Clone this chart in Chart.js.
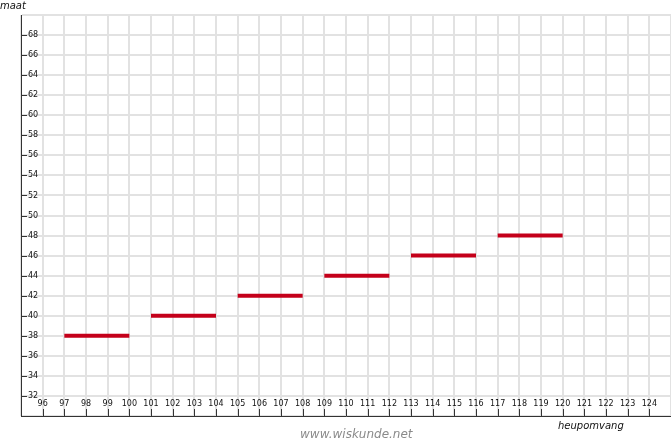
<!DOCTYPE html>
<html>
<head>
<meta charset="utf-8">
<script src="https://cdn.jsdelivr.net/npm/chart.js@4/dist/chart.umd.min.js"></script>
<style>
  html, body { margin: 0; padding: 0; background: #fff; }
  #wrap { position: relative; width: 671px; height: 440px; }
  canvas { position: absolute; left: 0; top: 0; }
  .lbl { position: absolute; font-family: "DejaVu Sans", Verdana, sans-serif; font-style: italic; white-space: nowrap; line-height: 1; }
</style>
</head>
<body>
<div id="wrap">
  <canvas id="c" width="671" height="440"></canvas>
  <div class="lbl" style="left:0px; top:1px; font-size:10px; color:#111;">maat</div>
  <div class="lbl" style="left:558px; top:421px; font-size:10px; color:#111;">heupomvang</div>
  <div class="lbl" style="left:300px; top:428px; font-size:12px; color:#8a8a8a;">www.wiskunde.net</div>
</div>
<script>
// Data: size (maat) per hip-circumference range (heupomvang)
const hipFrom = [97, 101, 105, 109, 113, 117];
const hipTo   = [100, 104, 108, 112, 116, 120];
const maat    = [38, 40, 42, 44, 46, 48];

// Axis ranges / tick labels
const xMin = 95, xMax = 125, xStep = 1;
const yMin = 30, yMax = 70, yStep = 2;
const xTickLabels = [96,97,98,99,100,101,102,103,104,105,106,107,108,109,110,111,112,113,114,115,116,117,118,119,120,121,122,123,124];
const yTickLabels = [32,34,36,38,40,42,44,46,48,50,52,54,56,58,60,62,64,66,68];

const RED = '#c4001a';
const datasets = maat.map((m, i) => ({
  type: 'line',
  data: [{x: hipFrom[i], y: m}, {x: hipTo[i], y: m}],
  borderColor: RED,
  backgroundColor: RED,
  borderWidth: 4,
  borderCapStyle: 'butt',
  pointRadius: 0,
  pointHoverRadius: 0,
  fill: false,
  tension: 0
}));

const tickMarks = {
  id: 'tickMarks',
  afterDatasetsDraw(chart) {
    const ctx = chart.ctx;
    const xs = chart.scales.x, ys = chart.scales.y;
    const a = chart.chartArea;
    ctx.save();
    ctx.strokeStyle = '#333';
    ctx.lineWidth = 1;
    ctx.beginPath();
    yTickLabels.forEach(v => {
      const p = Math.round(ys.getPixelForValue(v)) + 0.5;
      ctx.moveTo(a.left, p); ctx.lineTo(a.left + 6, p);
    });
    xTickLabels.forEach(v => {
      const p = Math.round(xs.getPixelForValue(v)) + 0.5;
      ctx.moveTo(p, a.bottom); ctx.lineTo(p, a.bottom - 7);
    });
    ctx.stroke();
    ctx.restore();
  }
};

new Chart(document.getElementById('c'), {
  type: 'scatter',
  data: { datasets },
  options: {
    responsive: false,
    animation: false,
    events: [],
    layout: { padding: { left: 21, top: 15, right: -5, bottom: 24 } },
    plugins: { legend: { display: false }, tooltip: { enabled: false }, title: { display: false } },
    scales: {
      x: {
        type: 'linear', min: xMin, max: xMax,
        afterFit(s) { s.height = 0; s.paddingRight = 0; s.paddingLeft = 0; },
        border: { display: true, color: '#333', width: 1 },
        grid: { color: '#e2e2e2', lineWidth: 2, drawTicks: false },
        ticks: {
          stepSize: xStep, autoSkip: false, maxRotation: 0, minRotation: 0,
          mirror: true, padding: 7, color: '#111',
          font: { family: '"DejaVu Sans", Verdana, sans-serif', size: 8 },
          callback: v => xTickLabels.includes(v) ? String(v) : ''
        }
      },
      y: {
        type: 'linear', min: yMin, max: yMax,
        afterFit(s) { s.width = 0; s.paddingTop = 0; s.paddingBottom = 0; },
        border: { display: true, color: '#333', width: 1 },
        grid: { color: '#e2e2e2', lineWidth: 2, drawTicks: false },
        ticks: {
          stepSize: yStep, autoSkip: false,
          mirror: true, padding: 7, color: '#111',
          font: { family: '"DejaVu Sans", Verdana, sans-serif', size: 8 },
          callback: v => yTickLabels.includes(v) ? String(v) : ''
        }
      }
    }
  },
  plugins: [tickMarks]
});
</script>
</body>
</html>
